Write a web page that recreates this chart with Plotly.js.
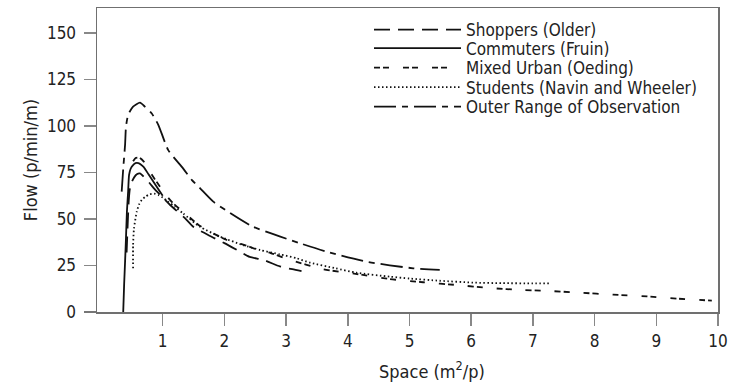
<!DOCTYPE html>
<html>
<head>
<meta charset="utf-8">
<script src="https://cdn.plot.ly/plotly-3.0.1.min.js"></script>
<style>html,body{margin:0;padding:0;background:#fff;}#chart{width:729px;height:385px;}</style>
</head>
<body>
<div id="chart"></div>
<script>
// Series names
const seriesNames = ["Shoppers (Older)", "Commuters (Fruin)", "Mixed Urban (Oeding)", "Students (Navin and Wheeler)", "Outer Range of Observation"];

// Space (m2/p) and Flow (p/min/m)
const shoppersX = [0.415, 0.43, 0.45, 0.47, 0.5, 0.54, 0.58, 0.63, 0.7, 0.79, 0.87, 0.96, 1.12, 1.36, 1.5, 1.8, 2.0, 2.25, 2.41, 2.63, 2.9, 3.1, 3.25];
const shoppersY = [32, 45, 60, 66.7, 70, 72.5, 74, 74.5, 72.5, 69.2, 66, 62.9, 57.5, 50.5, 45.7, 40.3, 37, 32.5, 29.6, 28, 24.5, 23, 22];

const commutersX = [0.36, 0.375, 0.39, 0.405, 0.42, 0.44, 0.455, 0.48, 0.52, 0.56, 0.605, 0.65, 0.69, 0.77, 0.85, 0.93, 1.0];
const commutersY = [0, 15, 27, 40, 54, 65, 73.7, 77, 79, 80, 80, 79.2, 78, 74, 70, 66, 62.5];

const mixedX = [0.52, 0.56, 0.62, 0.69, 0.78, 0.9, 1.05, 1.17, 1.39, 1.58, 1.8, 2.04, 2.33, 2.55, 2.75, 3.06, 3.6, 4.15, 4.68, 5.22, 5.77, 6.3, 6.84, 7.2, 7.76, 8.3, 8.85, 9.33, 9.9];
const mixedY = [81, 82.8, 83, 81, 76, 70, 63, 58.4, 52.2, 46.8, 42.5, 38.7, 36, 33.3, 31.7, 28, 23, 20.4, 17.7, 16, 14.5, 12.9, 11.8, 11.4, 10.4, 9.3, 8.4, 7.2, 6.1];

const studentsX = [0.52, 0.52, 0.535, 0.58, 0.62, 0.66, 0.72, 0.79, 0.86, 0.93, 1.0, 1.09, 1.2, 1.33, 1.6, 1.93, 2.3, 2.58, 2.9, 3.17, 3.39, 3.8, 4.14, 4.68, 5.0, 5.49, 6.03, 6.5, 7.0, 7.28];
const studentsY = [23.5, 36, 45, 54, 58, 60.2, 62, 63.3, 63.6, 62.9, 61.5, 59.3, 56.5, 53, 45.9, 40.5, 36, 33.3, 31, 28.9, 26.5, 23.5, 21.1, 19, 18, 16.8, 15.8, 15.5, 15.4, 15.4];

const outerX = [0.335, 0.36, 0.39, 0.405, 0.44, 0.52, 0.632, 0.71, 0.82, 0.93, 1.09, 1.33, 1.47, 1.6, 1.82, 2.06, 2.46, 3.23, 3.66, 4.31, 5.06, 5.49];
const outerY = [64.7, 77, 89.8, 99.6, 106, 110.4, 112.5, 110.4, 106.8, 100.5, 87, 77.2, 71, 66.7, 59.3, 53.9, 45.9, 36.9, 32.4, 27, 23.5, 22.6];

// Tick values and axis titles
const xTicks = [1, 2, 3, 4, 5, 6, 7, 8, 9, 10];
const yTicks = [0, 25, 50, 75, 100, 125, 150];
const xTitle = 'Space (m<sup>2</sup>/p)';
const yTitle = 'Flow (p/min/m)';

const FONT = "'DejaVu Sans Condensed', 'Liberation Sans Narrow', 'Arial Narrow', sans-serif";
const FS = 17;
const INK = '#111';
const AX = '#707070';

const seriesX = [shoppersX, commutersX, mixedX, studentsX, outerX];
const seriesY = [shoppersY, commutersY, mixedY, studentsY, outerY];
const dashes = ['16px,8px', 'solid', '6px,3px,6px,14px', '1.5px,2.5px', '22px,6px,6px,6px'];
const legendIds = ['legend', 'legend2', 'legend3', 'legend4', 'legend5'];
const legendRowsPx = [30, 48.5, 68, 87.5, 107];

const traces = seriesNames.map((name, i) => ({
  type: 'scatter', mode: 'lines', name: name,
  x: seriesX[i], y: seriesY[i],
  line: {color: INK, width: 1.8, dash: dashes[i], shape: 'spline', smoothing: 0.6},
  legend: legendIds[i], hoverinfo: 'skip'
}));

const plotTop = 8, plotBottom = 312, plotLeft = 97, plotRight = 718;
const W = plotRight - plotLeft, H = plotBottom - plotTop;
const layout = {
  width: 729, height: 385,
  margin: {l: plotLeft, r: 729 - plotRight, t: plotTop, b: 385 - plotBottom, pad: 0, autoexpand: false},
  paper_bgcolor: '#fff', plot_bgcolor: '#fff',
  font: {family: FONT, size: FS, color: '#222'},
  xaxis: {
    range: [-0.065, 10.0], tickmode: 'array', tickvals: xTicks, ticktext: xTicks.map(String),
    ticks: 'outside', ticklen: 12, tickwidth: 1.5, tickcolor: '#888',
    showline: true, linecolor: AX, linewidth: 1.5, mirror: true,
    showgrid: false, zeroline: false, ticklabelstandoff: 1, automargin: false,
    tickfont: {family: FONT, size: FS, color: '#222'}
  },
  yaxis: {
    range: [0, 163.4], tickmode: 'array', tickvals: yTicks, ticktext: yTicks.map(String),
    ticks: 'outside', ticklen: 12, tickwidth: 1.5, tickcolor: '#888',
    showline: true, linecolor: AX, linewidth: 1.5, mirror: true,
    showgrid: false, zeroline: false, ticklabelstandoff: 4, automargin: false,
    tickfont: {family: FONT, size: FS, color: '#222'},
    title: {text: yTitle, font: {family: FONT, size: 18, color: '#222'}, standoff: 4}
  },
  annotations: [
    {text: xTitle, xref: 'paper', yref: 'paper', x: (432 - plotLeft) / W, y: -(370 - plotBottom) / H,
     xanchor: 'center', yanchor: 'middle', showarrow: false, font: {family: FONT, size: 18, color: '#222'}}
  ],
  shapes: [{type: 'line', xref: 'paper', yref: 'paper', x0: -13 / W, x1: 0, y0: 0, y1: 0,
            line: {color: AX, width: 1.5}}],
  showlegend: true
};

legendIds.forEach((id, i) => {
  layout[id] = {
    x: (369 - plotLeft) / W,
    y: (plotBottom - legendRowsPx[i]) / H,
    xanchor: 'left', yanchor: 'middle', xref: 'paper', yref: 'paper',
    bgcolor: 'rgba(0,0,0,0)', borderwidth: 0, itemwidth: 87,
    font: {family: FONT, size: FS, color: '#222'}
  };
});

Plotly.newPlot('chart', traces, layout, {staticPlot: true, displayModeBar: false});
</script>
</body>
</html>
